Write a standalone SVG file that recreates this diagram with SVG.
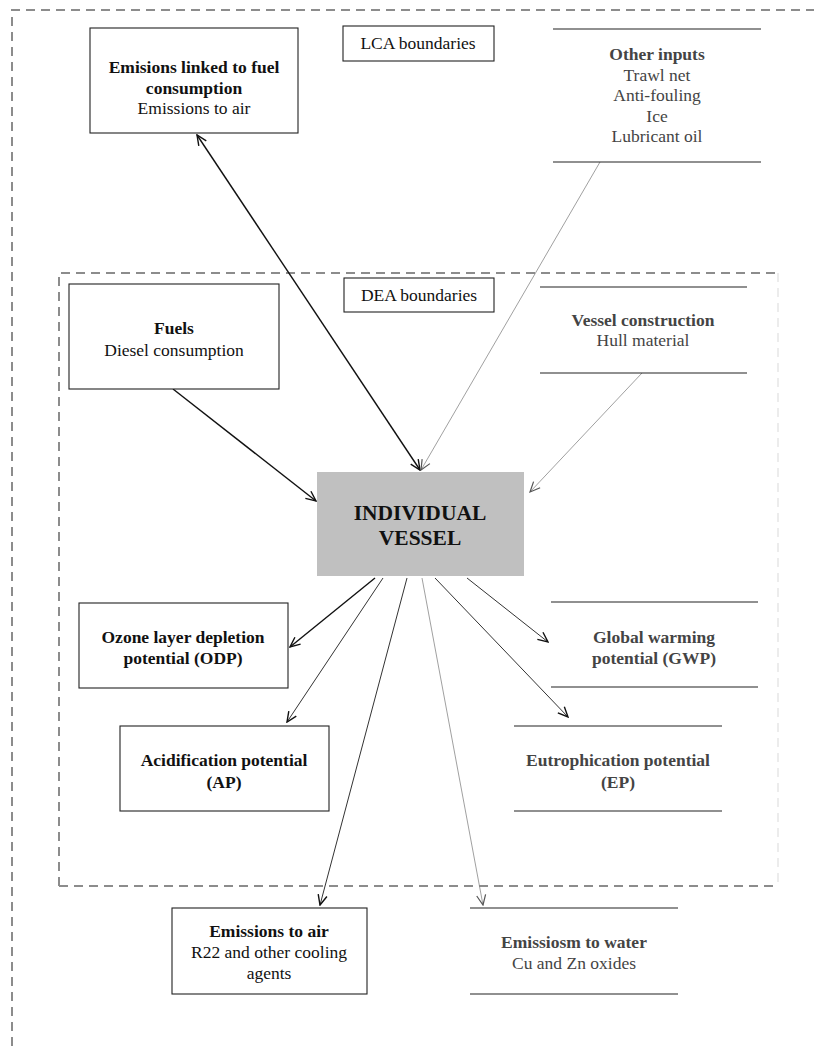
<svg xmlns="http://www.w3.org/2000/svg" width="814" height="1046" viewBox="0 0 814 1046" font-family="'Liberation Serif', Tinos, 'DejaVu Serif', 'Times New Roman', serif">
<style>
text{font-family:"Liberation Serif",Tinos,"DejaVu Serif","Times New Roman",serif;font-size:17.5px;fill:#111;text-anchor:middle}
.b{font-weight:bold}
.f{fill:#444}
.box{fill:#fff;stroke:#222;stroke-width:1.1}
.open{fill:#fff;stroke:none}
.hl{stroke:#222;stroke-width:1.1}
.bound{fill:none;stroke:#8c8c8c;stroke-width:2;stroke-dasharray:9 6}
.c{fill:none;stroke:#111;stroke-width:1.4}
.c2{fill:none;stroke:#333;stroke-width:1}
.g{fill:none;stroke:#888;stroke-width:0.8}
</style>
<defs>
<marker id="ah" viewBox="0 0 12 12" refX="11" refY="6" markerWidth="12" markerHeight="12" markerUnits="userSpaceOnUse" orient="auto-start-reverse">
<path d="M1,1.5 L11,6 L1,10.5" fill="none" stroke="#111" stroke-width="1.4"/>
</marker>
<marker id="ahg" viewBox="0 0 12 12" refX="11" refY="6" markerWidth="12" markerHeight="12" markerUnits="userSpaceOnUse" orient="auto">
<path d="M1,1.5 L11,6 L1,10.5" fill="none" stroke="#555" stroke-width="1.2"/>
</marker>
</defs>
<rect width="814" height="1046" fill="#fff"/>
<g id="boundaries">
<path class="bound" d="M12,1046 V10 H814"/>
<path class="bound" d="M59,886 V273 H778"/>
<path class="bound" d="M59,886 H778"/>
<path d="M778,273 V886" fill="none" stroke="#ececec" stroke-width="2" stroke-dasharray="9 6"/>
</g>
<g id="connectors">
<line class="c" x1="197" y1="135" x2="420" y2="470" marker-start="url(#ah)" marker-end="url(#ah)"/>
<line class="g" x1="600" y1="162" x2="421" y2="470" marker-end="url(#ahg)"/>
<line class="c" x1="173" y1="389" x2="316" y2="501" marker-end="url(#ah)"/>
<line class="g" x1="642" y1="373" x2="530" y2="492" marker-end="url(#ahg)"/>
<line class="c" x1="375" y1="578" x2="290" y2="647" marker-end="url(#ah)"/>
<line class="c2" x1="383" y1="578" x2="287" y2="722" marker-end="url(#ah)"/>
<line class="c2" x1="407" y1="578" x2="320" y2="905" marker-end="url(#ah)"/>
<line class="g" x1="422" y1="578" x2="483" y2="905" marker-end="url(#ahg)"/>
<line class="c2" x1="435" y1="578" x2="568" y2="717" marker-end="url(#ah)"/>
<line class="c2" x1="467" y1="578" x2="548" y2="642" marker-end="url(#ah)"/>
</g>
<g id="emisions-fuel">
<rect class="box" x="90" y="28" width="208" height="105"/>
<text class="b" x="194" y="73">Emisions linked to fuel</text>
<text class="b" x="194" y="94">consumption</text>
<text x="194" y="114">Emissions to air</text>
</g>
<g id="lca-label">
<rect class="box" x="343" y="26" width="151" height="35"/>
<text x="418" y="49">LCA boundaries</text>
</g>
<g id="other-inputs">
<rect class="open" x="553" y="29" width="208" height="133"/>
<line class="hl" x1="553" y1="29" x2="761" y2="29"/>
<line class="hl" x1="553" y1="162" x2="761" y2="162"/>
<text class="b f" x="657" y="60">Other inputs</text>
<text class="f" x="657" y="81">Trawl net</text>
<text class="f" x="657" y="101">Anti-fouling</text>
<text class="f" x="657" y="122">Ice</text>
<text class="f" x="657" y="142">Lubricant oil</text>
</g>
<g id="fuels">
<rect class="box" x="69" y="284" width="210" height="105"/>
<text class="b" x="174" y="334">Fuels</text>
<text x="174" y="356">Diesel consumption</text>
</g>
<g id="dea-label">
<rect class="box" x="344" y="278" width="150" height="34"/>
<text x="419" y="301">DEA boundaries</text>
</g>
<g id="vessel-construction">
<rect class="open" x="540" y="287" width="207" height="86"/>
<line class="hl" x1="540" y1="287" x2="747" y2="287"/>
<line class="hl" x1="540" y1="373" x2="747" y2="373"/>
<text class="b f" x="643" y="326">Vessel construction</text>
<text class="f" x="643" y="346">Hull material</text>
</g>
<g id="individual-vessel">
<rect x="317" y="472" width="207" height="104" fill="#c0c0c0"/>
<text class="b" x="420" y="520" style="font-size:21.5px">INDIVIDUAL</text>
<text class="b" x="420" y="545" style="font-size:21.5px">VESSEL</text>
</g>
<g id="odp">
<rect class="box" x="79" y="603" width="209" height="85"/>
<text class="b" x="183" y="643">Ozone layer depletion</text>
<text class="b" x="183" y="664">potential (ODP)</text>
</g>
<g id="gwp">
<rect class="open" x="551" y="602" width="207" height="85"/>
<line class="hl" x1="551" y1="602" x2="758" y2="602"/>
<line class="hl" x1="551" y1="687" x2="758" y2="687"/>
<text class="b f" x="654" y="643">Global warming</text>
<text class="b f" x="654" y="664">potential (GWP)</text>
</g>
<g id="ap">
<rect class="box" x="120" y="726" width="209" height="85"/>
<text class="b" x="224" y="766">Acidification potential</text>
<text class="b" x="224" y="788">(AP)</text>
</g>
<g id="ep">
<rect class="open" x="514" y="726" width="208" height="85"/>
<line class="hl" x1="514" y1="726" x2="722" y2="726"/>
<line class="hl" x1="514" y1="811" x2="722" y2="811"/>
<text class="b f" x="618" y="766">Eutrophication potential</text>
<text class="b f" x="618" y="788">(EP)</text>
</g>
<g id="emissions-air">
<rect class="box" x="172" y="908" width="195" height="86"/>
<text class="b" x="269" y="937">Emissions to air</text>
<text x="269" y="958">R22 and other cooling</text>
<text x="269" y="979">agents</text>
</g>
<g id="emissions-water">
<rect class="open" x="470" y="908" width="208" height="86"/>
<line class="hl" x1="470" y1="908" x2="678" y2="908"/>
<line class="hl" x1="470" y1="994" x2="678" y2="994"/>
<text class="b f" x="574" y="948">Emissiosm to water</text>
<text class="f" x="574" y="969">Cu and Zn oxides</text>
</g>
</svg>
